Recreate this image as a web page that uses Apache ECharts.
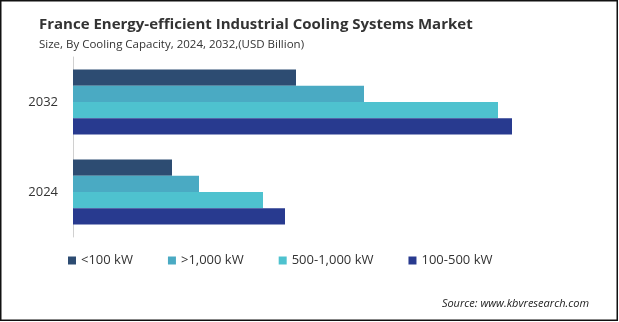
<!DOCTYPE html>
<html>
<head>
<meta charset="utf-8">
<script src="https://cdn.jsdelivr.net/npm/echarts@6/dist/echarts.min.js"></script>
<style>
html,body{margin:0;padding:0;background:#fff;}
#chart{width:619px;height:322px;}
</style>
</head>
<body>
<div id="chart"></div>
<script>
// Data (USD Billion)
const categories = ['2024', '2032'];
const legendOrder = ['<100 kW', '>1,000 kW', '500-1,000 kW', '100-500 kW'];
const seriesNames = ['<100 kW', '>1,000 kW', '500-1,000 kW', '100-500 kW'];
const valuesUnder100 = [0.99, 2.23];
const valuesOver1000 = [1.26, 2.91];
const values500to1000 = [1.90, 4.25];
const values100to500 = [2.12, 4.39];
const seriesColors = ['#2d4c72', '#4aaac3', '#4ec2cf', '#283a8f'];
const seriesValues = [valuesUnder100, valuesOver1000, values500to1000, values100to500];

const chart = echarts.init(document.getElementById('chart'), null, {renderer: 'canvas'});
const font = '"Open Sans", "Noto Sans", sans-serif';

chart.setOption({
  animation: false,
  backgroundColor: '#fff',
  title: [
    {
      text: 'France Energy-efficient Industrial Cooling Systems Market',
      left: 34, top: 12,
      textStyle: {fontFamily: font, fontSize: 15, fontWeight: 'bold', color: '#333'}
    },
    {
      text: 'Size, By Cooling Capacity, 2024, 2032,(USD Billion)',
      left: 34, top: 34,
      textStyle: {fontFamily: font, fontSize: 11.5, fontWeight: 'normal', color: '#333'}
    }
  ],
  legend: {
    data: legendOrder,
    left: 63, top: 249,
    itemWidth: 8, itemHeight: 8, itemGap: 35,
    icon: 'rect',
    textStyle: {fontFamily: font, fontSize: 13, color: '#333'}
  },
  grid: {left: 73, top: 57, width: 500, height: 180, containLabel: false},
  xAxis: {
    type: 'value', min: 0, max: 5,
    show: false
  },
  yAxis: {
    type: 'category',
    data: categories,
    axisLine: {show: true, lineStyle: {color: '#d0d0d0', width: 1}},
    axisTick: {show: false},
    axisLabel: {fontFamily: font, fontSize: 13, color: '#333', margin: 15}
  },
  series: seriesNames.map((name, i) => ({
    name: name,
    type: 'bar',
    data: seriesValues[i],
    barGap: '0%',
    barCategoryGap: '28%',
    itemStyle: {color: seriesColors[i]}
  })),
  graphic: [
    {
      type: 'text',
      right: 30, top: 298,
      style: {text: 'Source: www.kbvresearch.com', font: 'italic 11px ' + font, fill: '#222'}
    },
    {
      type: 'rect',
      shape: {x: 0.75, y: 0.75, width: 616.5, height: 319.5},
      style: {fill: 'none', stroke: '#111', lineWidth: 1.5},
      silent: true
    }
  ]
});
</script>
</body>
</html>
